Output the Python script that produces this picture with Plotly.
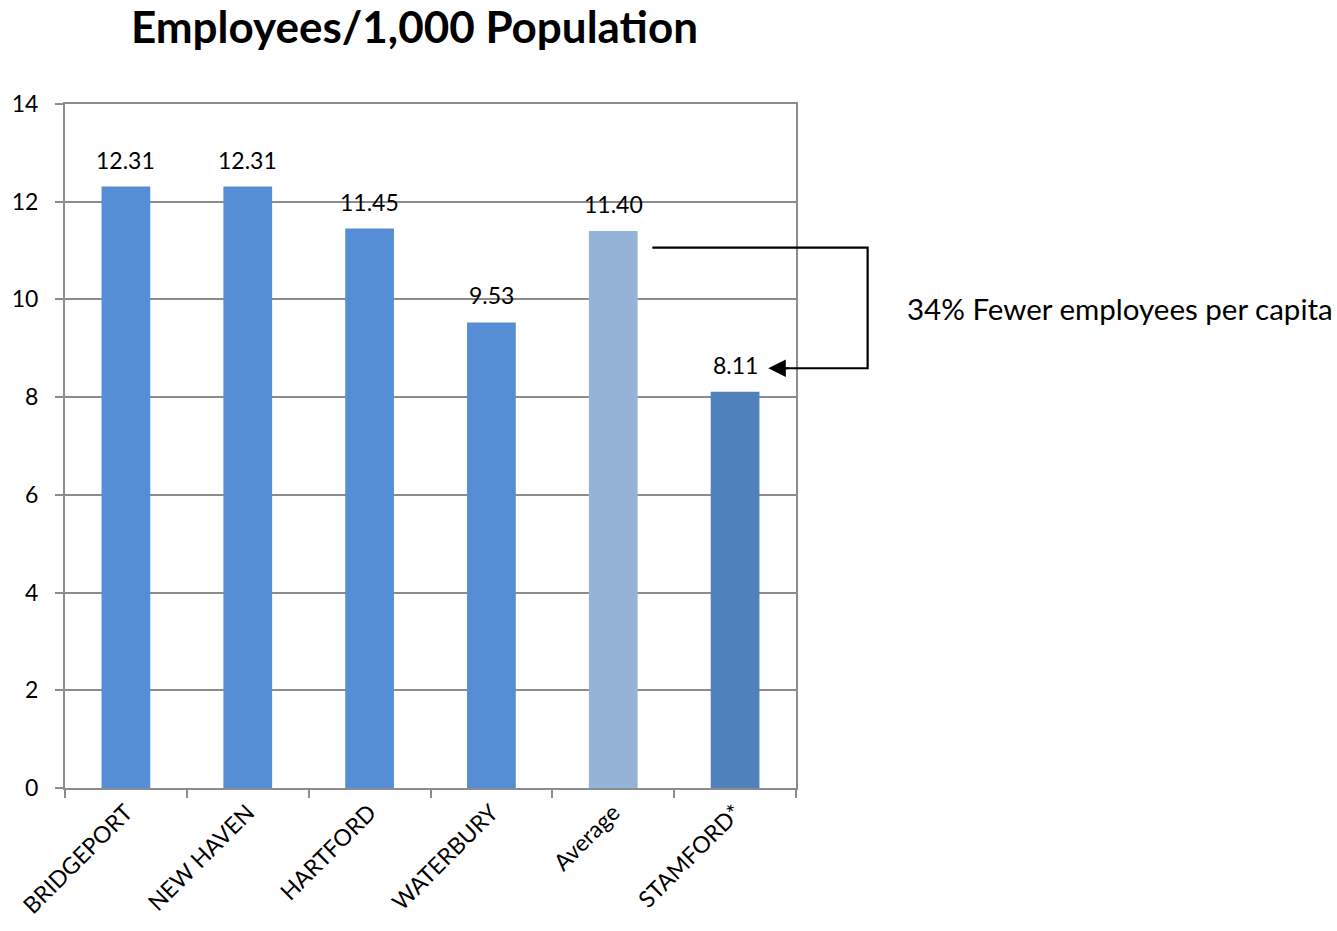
import plotly.graph_objects as go

categories = ["BRIDGEPORT", "NEW HAVEN", "HARTFORD", "WATERBURY", "Average", "STAMFORD*"]
values = [12.31, 12.31, 11.45, 9.53, 11.40, 8.11]
bar_colors = ["#558ED5", "#558ED5", "#558ED5", "#558ED5", "#95B3D7", "#4F81BD"]
y_ticks = [0, 2, 4, 6, 8, 10, 12, 14]
callout_text = "34% Fewer employees per capita"

FONT = "Lato, Open Sans, sans-serif"
GRID = "#8c8c8c"

fig = go.Figure()
fig.add_trace(go.Bar(
    x=categories, y=values, marker=dict(color=bar_colors, line=dict(width=0)),
    hoverinfo="x+y",
))

annotations = []
for c, v in zip(categories, values):
    annotations.append(dict(
        x=c, y=v, xref="x", yref="y", text=f"{v:.2f}", showarrow=False,
        yanchor="bottom", yshift=11, font=dict(size=23, color="#000", family=FONT),
    ))

# callout arrow head
annotations.append(dict(
    x=0.962, y=0.6137, xref="paper", yref="paper", text="", showarrow=True,
    ax=22, ay=0, arrowhead=2, arrowsize=1.6, arrowwidth=2.2, arrowcolor="#000",
    standoff=0,
))
annotations.append(dict(
    x=1.149, y=0.701, xref="paper", yref="paper", text=callout_text, showarrow=False,
    xanchor="left", yanchor="middle", font=dict(size=29.5, color="#000", family=FONT),
))

fig.update_layout(
    width=1337, height=931,
    margin=dict(l=63, r=541, t=104, b=141),
    paper_bgcolor="white", plot_bgcolor="white",
    title=dict(text="<b>Employees/1,000 Population</b>", x=0.31, xanchor="center",
               y=0.97, yanchor="middle",
               font=dict(size=44, color="#000", family=FONT)),
    bargap=0.6,
    showlegend=False,
    annotations=annotations,
    shapes=[dict(
        type="path", xref="paper", yref="paper",
        path="M 0.8035 0.790 L 1.098 0.790 L 1.098 0.6137 L 0.975 0.6137",
        line=dict(color="#000", width=2.2),
    )],
    xaxis=dict(
        type="category", tickangle=-45, tickson="boundaries", ticks="outside",
        ticklen=8, tickcolor=GRID, tickwidth=1.5,
        showline=True, linecolor=GRID, linewidth=2, mirror=True,
        showgrid=False,
        tickfont=dict(size=23, color="#000", family=FONT),
    ),
    yaxis=dict(
        range=[0, 14], tickvals=y_ticks, ticks="outside", ticklen=8,
        tickcolor=GRID, tickwidth=1.5, ticklabelstandoff=12,
        showline=True, linecolor=GRID, linewidth=2, mirror=True,
        showgrid=True, gridcolor=GRID, gridwidth=1.5, zeroline=False,
        tickfont=dict(size=23, color="#000", family=FONT),
    ),
)

fig.write_html("out.html")
